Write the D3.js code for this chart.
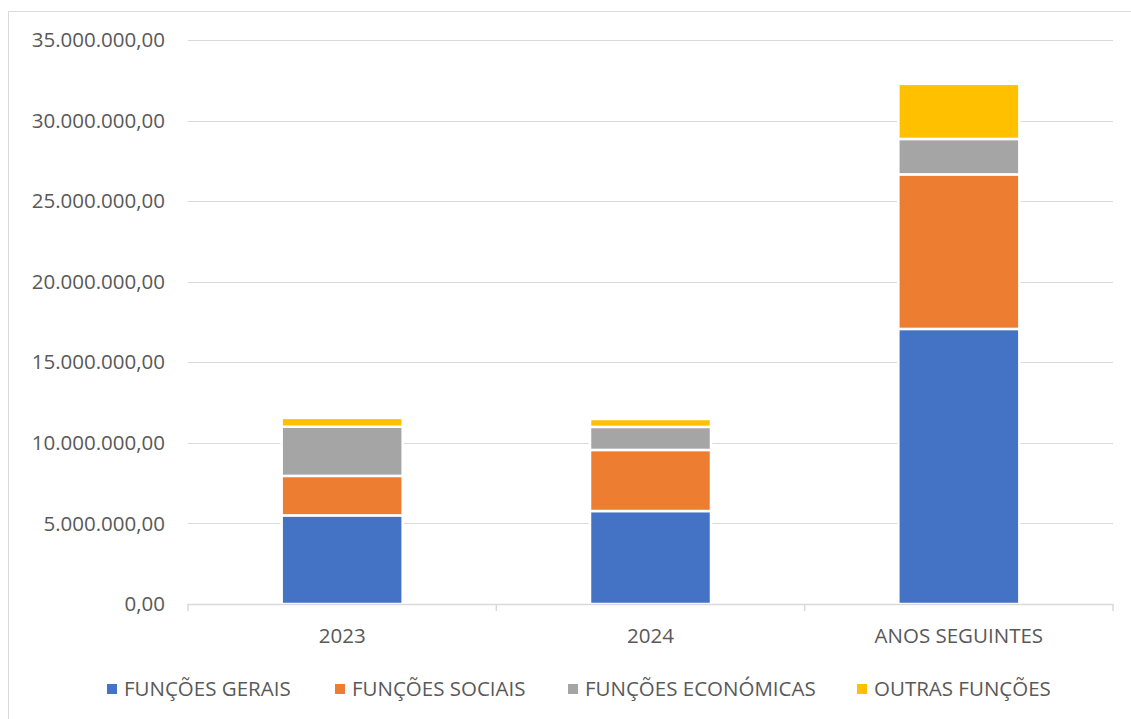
<!DOCTYPE html>
<html><head><meta charset="utf-8">
<script src="https://cdn.jsdelivr.net/npm/d3@7"></script>
<style>body{margin:0;background:#fff;}svg{display:block;font-family:"Open Sans","Liberation Sans",sans-serif;}</style>
</head><body><svg id="c" width="1131" height="719"></svg>
<script>
const categories = ["2023", "2024", "ANOS SEGUINTES"];
const seriesNames = ["FUNÇÕES GERAIS", "FUNÇÕES SOCIAIS", "FUNÇÕES ECONÓMICAS", "OUTRAS FUNÇÕES"];
const funcoesGerais = [5500000, 5770000, 17070000];
const funcoesSociais = [2450000, 3790000, 9590000];
const funcoesEconomicas = [3050000, 1430000, 2200000];
const outrasFuncoes = [550000, 490000, 3420000];
const yTicks = [0, 5000000, 10000000, 15000000, 20000000, 25000000, 30000000, 35000000];
const colors = ["#4472C4", "#ED7D31", "#A5A5A5", "#FFC000"];

(function () {
const svg = d3.select("#c");
svg.append("rect").attr("x", 8.5).attr("y", 11.5).attr("width", 1140).attr("height", 720)
  .attr("fill", "#fff").attr("stroke", "#d9d9d9");

const fs = 20.5;
const pL = 188, pR = 1113, pT = 40, pB = 604;
const x = d3.scaleBand().domain(categories).range([pL, pR]).paddingInner(0).paddingOuter(0);
const y = d3.scaleLinear().domain([0, 35000000]).range([pB, pT]);
const fmt = v => d3.format(",.2f")(v).replace(/,/g, "#").replace(".", ",").replace(/#/g, ".");

svg.append("g").selectAll("line").data(yTicks.filter(d => d > 0)).join("line")
  .attr("x1", pL).attr("x2", pR)
  .attr("y1", d => Math.round(y(d)) + 0.5).attr("y2", d => Math.round(y(d)) + 0.5)
  .attr("stroke", "#d9d9d9").attr("stroke-width", 1);

svg.append("g").selectAll("text").data(yTicks).join("text")
  .attr("x", 165).attr("y", d => y(d)).attr("dy", "0.35em").attr("text-anchor", "end")
  .attr("fill", "#595959").attr("font-size", fs).text(fmt);

const rows = categories.map((c, i) => ({cat: c, s0: funcoesGerais[i], s1: funcoesSociais[i], s2: funcoesEconomicas[i], s3: outrasFuncoes[i]}));
const stack = d3.stack().keys(["s0", "s1", "s2", "s3"])(rows);
const bw = 121;
svg.append("g").selectAll("g").data(stack).join("g").attr("fill", (d, i) => colors[i])
  .selectAll("rect").data(d => d).join("rect")
  .attr("x", d => x(d.data.cat) + x.bandwidth() / 2 - bw / 2)
  .attr("width", bw)
  .attr("y", d => y(d[1]))
  .attr("height", d => y(d[0]) - y(d[1]))
  .attr("stroke", "#fff").attr("stroke-width", 2.5);

svg.append("line").attr("x1", pL).attr("x2", pR).attr("y1", pB + 0.5).attr("y2", pB + 0.5)
  .attr("stroke", "#d9d9d9").attr("stroke-width", 1.5);
const bounds = [pL, ...categories.map(c => x(c) + x.bandwidth())];
svg.append("g").selectAll("line").data(bounds).join("line")
  .attr("x1", d => d).attr("x2", d => d).attr("y1", pB).attr("y2", pB + 7)
  .attr("stroke", "#d9d9d9").attr("stroke-width", 1.5);
svg.append("g").selectAll("text").data(categories).join("text")
  .attr("x", d => x(d) + x.bandwidth() / 2).attr("y", 636).attr("dy", "0.35em")
  .attr("text-anchor", "middle").attr("fill", "#595959").attr("font-size", fs).text(d => d);

const legX = [107, 335, 568, 857];
const lg = svg.append("g").selectAll("g").data(seriesNames).join("g")
  .attr("transform", (d, i) => `translate(${legX[i]},689)`);
lg.append("rect").attr("x", 0).attr("y", -5).attr("width", 10).attr("height", 10).attr("fill", (d, i) => colors[i]);
lg.append("text").attr("x", 17).attr("dy", "0.35em").attr("fill", "#595959").attr("font-size", fs).text(d => d);
})();
</script></body></html>
